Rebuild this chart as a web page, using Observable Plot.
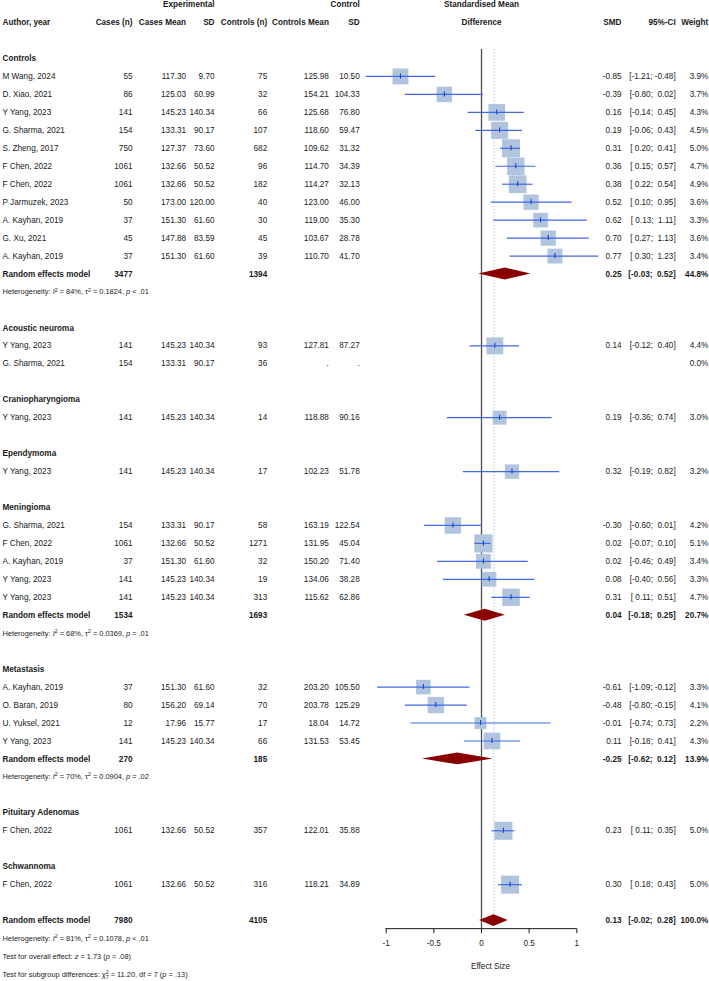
<!DOCTYPE html>
<html>
<head>
<meta charset="utf-8">
<script src="https://cdn.jsdelivr.net/npm/d3@7"></script>
<script src="https://cdn.jsdelivr.net/npm/@observablehq/plot@0.6"></script>
<style>
  html, body { margin: 0; padding: 0; background: #fff; }
  svg text { white-space: pre; }
</style>
</head>
<body>
<div id="chart"></div>
<script>
// ---- Study-level data (one entry per study row) ----
const studyGroup = [
  "Controls","Controls","Controls","Controls","Controls","Controls","Controls","Controls","Controls","Controls","Controls",
  "Acoustic neuroma","Acoustic neuroma",
  "Craniopharyngioma",
  "Ependymoma",
  "Meningioma","Meningioma","Meningioma","Meningioma","Meningioma",
  "Metastasis","Metastasis","Metastasis","Metastasis",
  "Pituitary Adenomas",
  "Schwannoma"
];
const author = [
  "M Wang, 2024","D. Xiao, 2021","Y Yang, 2023","G. Sharma, 2021","S. Zheng, 2017","F Chen, 2022","F Chen, 2022","P Jarmuzek, 2023","A. Kayhan, 2019","G. Xu, 2021","A. Kayhan, 2019",
  "Y Yang, 2023","G. Sharma, 2021",
  "Y Yang, 2023",
  "Y Yang, 2023",
  "G. Sharma, 2021","F Chen, 2022","A. Kayhan, 2019","Y Yang, 2023","Y Yang, 2023",
  "A. Kayhan, 2019","O. Baran, 2019","U. Yuksel, 2021","Y Yang, 2023",
  "F Chen, 2022",
  "F Chen, 2022"
];
const casesN = [55,86,141,154,750,1061,1061,50,37,45,37, 141,154, 141, 141, 154,1061,37,141,141, 37,80,12,141, 1061, 1061];
const casesMean = [117.30,125.03,145.23,133.31,127.37,132.66,132.66,173.00,151.30,147.88,151.30, 145.23,133.31, 145.23, 145.23, 133.31,132.66,151.30,145.23,145.23, 151.30,156.20,17.96,145.23, 132.66, 132.66];
const casesSD = [9.70,60.99,140.34,90.17,73.60,50.52,50.52,120.00,61.60,83.59,61.60, 140.34,90.17, 140.34, 140.34, 90.17,50.52,61.60,140.34,140.34, 61.60,69.14,15.77,140.34, 50.52, 50.52];
const controlsN = [75,32,66,107,682,96,182,40,30,45,39, 93,36, 14, 17, 58,1271,32,19,313, 32,70,17,66, 357, 316];
const controlsMean = [125.98,154.21,125.68,118.60,109.62,114.70,114.27,123.00,119.00,103.67,110.70, 127.81,null, 118.88, 102.23, 163.19,131.95,150.20,134.06,115.62, 203.20,203.78,18.04,131.53, 122.01, 118.21];
const controlsSD = [10.50,104.33,76.80,59.47,31.32,34.39,32.13,46.00,35.30,28.78,41.70, 87.27,null, 90.16, 51.78, 122.54,45.04,71.40,38.28,62.86, 105.50,125.29,14.72,53.45, 35.88, 34.89];
const smd = [-0.85,-0.39,0.16,0.19,0.31,0.36,0.38,0.52,0.62,0.70,0.77, 0.14,null, 0.19, 0.32, -0.30,0.02,0.02,0.08,0.31, -0.61,-0.48,-0.01,0.11, 0.23, 0.30];
const ciLow = [-1.21,-0.80,-0.14,-0.06,0.20,0.15,0.22,0.10,0.13,0.27,0.30, -0.12,null, -0.36, -0.19, -0.60,-0.07,-0.46,-0.40,0.11, -1.09,-0.80,-0.74,-0.18, 0.11, 0.18];
const ciHigh = [-0.48,0.02,0.45,0.43,0.41,0.57,0.54,0.95,1.11,1.13,1.23, 0.40,null, 0.74, 0.82, 0.01,0.10,0.49,0.56,0.51, -0.12,-0.15,0.73,0.41, 0.35, 0.43];
const weight = [3.9,3.7,4.3,4.5,5.0,4.7,4.9,3.6,3.3,3.6,3.4, 4.4,0.0, 3.0, 3.2, 4.2,5.1,3.4,3.3,4.7, 3.3,4.1,2.2,4.3, 5.0, 5.0];

// ---- Subgroups and pooled random-effects estimates ----
const subgroups = ["Controls","Acoustic neuroma","Craniopharyngioma","Ependymoma","Meningioma","Metastasis","Pituitary Adenomas","Schwannoma"];
const pooledGroup = ["Controls","Meningioma","Metastasis"];
const pooledCases = [3477, 1534, 270];
const pooledControls = [1394, 1693, 185];
const pooledSMD = [0.25, 0.04, -0.25];
const pooledLow = [-0.03, -0.18, -0.62];
const pooledHigh = [0.52, 0.25, 0.12];
const pooledWeight = [44.8, 20.7, 13.9];
const hetI2 = [84, 68, 70];
const hetTau2 = ["0.1824", "0.0369", "0.0904"];
const hetP = ["< .01", "= .01", "= .02"];

// ---- Overall model ----
const overallCases = 7980;
const overallControls = 4105;
const overallSMD = 0.13;
const overallLow = -0.02;
const overallHigh = 0.28;
const overallWeight = 100.0;
const overallI2 = 81;
const overallTau2 = "0.1078";
const overallP = "< .01";
const overallZ = 1.73;
const overallZp = ".08";
const subgroupChi2 = 11.20;
const subgroupDf = 7;
const subgroupP = ".13";

// ---- Header labels and axis ticks ----
const spanHeaders = ["Experimental", "Control"];
const columnHeaders = ["Author, year","Cases (n)","Cases Mean","SD","Controls (n)","Controls Mean","SD","SMD","95%-CI","Weight"];
const plotHeader = ["Standardised Mean", "Difference"];
const axisTicks = [-1, -0.5, 0, 0.5, 1];
const axisLabel = "Effect Size";

// ---- Layout ----
const ROW = 17.96;                 // pixels per table row
const AXIS_ROW = 48.45;            // row position of the x-axis line
const DIAMOND_HALF = 0.33;         // half-height of summary diamonds, in rows
const TICK_HALF = 2.5;             // half-height of point-estimate ticks, px
const columnKeys = ["author","casesN","casesMean","casesSD","controlsN","controlsMean","controlsSD","smd","ci","weight"];
const COLS = {author: 2, casesN: 132, casesMean: 185.6, casesSD: 214, controlsN: 266.7, controlsMean: 328.4, controlsSD: 359.2, smd: 621, ci: 675.2, weight: 707.8};
const FONT = "'Liberation Sans', Arial, Helvetica, sans-serif";
const FS = 8.2, FS_SMALL = 7.4;
const ink = "#1a1a1a";
const squareFill = "#b0c4de", ciColor = "#4169e1", tickColor = "#1f3fc8", diamondFill = "#8b0000";

// ---- Formatting helpers ----
const f2 = v => v == null ? "." : v.toFixed(2);
const padNum = v => (v < 0 ? "" : " ") + v.toFixed(2);
const fmtCI = (lo, hi) => lo == null ? "" : `[${padNum(lo)}; ${padNum(hi)}]`;
const fmtW = w => w.toFixed(1) + "%";
const plain = m => m.replace(/[_^~]/g, "");

// ---- Build the row table ----
const studies = author.map((a, i) => ({
  group: studyGroup[i], author: a,
  casesN: String(casesN[i]), casesMean: f2(casesMean[i]), casesSD: f2(casesSD[i]),
  controlsN: String(controlsN[i]), controlsMean: f2(controlsMean[i]), controlsSD: f2(controlsSD[i]),
  est: smd[i], lo: ciLow[i], hi: ciHigh[i], w: weight[i],
  smd: smd[i] == null ? "" : smd[i].toFixed(2), ci: fmtCI(ciLow[i], ciHigh[i]), weight: fmtW(weight[i])
}));

const studyRows = [], groupRows = [], pooledRows = [], richRows = [];
let r = 0;
for (const g of subgroups) {
  groupRows.push({row: r++, author: g});
  for (const s of studies.filter(s => s.group === g)) studyRows.push({...s, row: r++});
  const p = pooledGroup.indexOf(g);
  if (p >= 0) {
    pooledRows.push({
      row: r++, author: "Random effects model",
      casesN: String(pooledCases[p]), controlsN: String(pooledControls[p]),
      est: pooledSMD[p], lo: pooledLow[p], hi: pooledHigh[p],
      smd: pooledSMD[p].toFixed(2), ci: fmtCI(pooledLow[p], pooledHigh[p]), weight: fmtW(pooledWeight[p])
    });
    richRows.push({row: r++, markup: `Heterogeneity: _I_^2^ = ${hetI2[p]}%, τ^2^ = ${hetTau2[p]}, _p_ ${hetP[p]}`});
  }
  r++; // spacer
}
const overallRow = r;
pooledRows.push({
  row: r++, author: "Random effects model",
  casesN: String(overallCases), controlsN: String(overallControls),
  est: overallSMD, lo: overallLow, hi: overallHigh,
  smd: overallSMD.toFixed(2), ci: fmtCI(overallLow, overallHigh), weight: fmtW(overallWeight)
});
richRows.push({row: r++, markup: `Heterogeneity: _I_^2^ = ${overallI2}%, τ^2^ = ${overallTau2}, _p_ ${overallP}`});
richRows.push({row: r++, markup: `Test for overall effect: _z_ = ${overallZ.toFixed(2)} (_p_ = ${overallZp})`});
richRows.push({row: r++, markup: `Test for subgroup differences: χ^2^~${subgroupDf}~ = ${subgroupChi2.toFixed(2)}, df = ${subgroupDf} (_p_ = ${subgroupP})`});
richRows.forEach(d => d.text = plain(d.markup));

const plotted = studyRows.filter(d => d.est != null && d.w > 0);
const diamonds = pooledRows.flatMap(d => [
  {id: d.row, x: d.lo, y1: d.row, y2: d.row},
  {id: d.row, x: d.est, y1: d.row - DIAMOND_HALF, y2: d.row + DIAMOND_HALF},
  {id: d.row, x: d.hi, y1: d.row, y2: d.row}
]);

// ---- Text column helper ----
const column = (data, key, opts = {}) => Plot.text(data, {
  y: "row", text: key, frameAnchor: "left", dx: COLS[key],
  textAnchor: key === "author" ? "start" : "end",
  fill: ink, fontSize: FS, ...opts
});
const bold = {fontWeight: "bold"};

const headerMarks = [
  ...spanHeaders.map((h, i) => Plot.text([h], {
    y: () => -3, text: d => d, frameAnchor: "left", dx: COLS[i === 0 ? "casesSD" : "controlsSD"],
    textAnchor: "end", fill: ink, fontSize: FS, ...bold
  })),
  ...columnHeaders.map((h, i) => Plot.text([h], {
    y: () => -2, text: d => d, frameAnchor: "left", dx: COLS[columnKeys[i]],
    textAnchor: i === 0 ? "start" : "end", fill: ink, fontSize: FS, ...bold
  })),
  ...plotHeader.map((h, i) => Plot.text([h], {
    x: () => 0, y: () => i - 3, text: d => d, textAnchor: "middle", fill: ink, fontSize: FS, ...bold
  }))
];

const svg = Plot.plot({
  width: 709, height: 981,
  marginTop: 0, marginRight: 0, marginLeft: 0, marginBottom: 981 - (58 + AXIS_ROW * ROW),
  style: {fontFamily: FONT, fontSize: FS + "px", background: "#fff", color: ink, overflow: "visible"},
  x: {domain: [-1, 1], range: [385.7, 576.3]},
  y: {domain: [0, 48], range: [58, 58 + 48 * ROW], axis: null},
  r: {type: "sqrt", domain: [0, 5], range: [0, 18 / Math.sqrt(Math.PI)]},
  marks: [
    // reference lines: no effect and overall effect
    Plot.ruleX([0], {y1: -0.5, y2: AXIS_ROW, stroke: "#4d4d4d", strokeWidth: 1.3}),
    Plot.ruleX([overallSMD], {y1: -0.5, y2: overallRow, stroke: "#9fb0d0", strokeWidth: 0.9, strokeDasharray: "1.2,2"}),
    // study squares, CIs and point estimates
    Plot.dot(plotted, {x: "est", y: "row", r: "w", symbol: "square", fill: squareFill, stroke: null}),
    Plot.ruleY(plotted, {y: "row", x1: "lo", x2: "hi", stroke: ciColor, strokeWidth: 1.2}),
    Plot.ruleX(plotted, {x: "est", y1: "row", y2: "row", insetTop: -TICK_HALF, insetBottom: -TICK_HALF, stroke: tickColor, strokeWidth: 1.1}),
    // pooled diamonds
    Plot.area(diamonds, {x1: "x", y1: "y1", y2: "y2", z: "id", fill: diamondFill, curve: "linear"}),
    // x axis
    Plot.ruleY([AXIS_ROW], {x1: -1, x2: 1, stroke: ink, strokeWidth: 1}),
    Plot.axisX({ticks: axisTicks, tickFormat: d => String(d), tickSize: 5, tickPadding: 7, label: null, fontSize: FS, color: ink}),
    Plot.text([axisLabel], {text: d => d, frameAnchor: "bottom-left", dx: 490, dy: 40, textAnchor: "middle", fill: ink, fontSize: FS}),
    // headers
    ...headerMarks,
    // group titles
    column(groupRows, "author", bold),
    // study rows
    ...columnKeys.map(k => column(studyRows, k)),
    // pooled rows
    ...["author","casesN","controlsN","smd","ci","weight"].map(k => column(pooledRows, k, bold)),
    // heterogeneity and test lines
    Plot.text(richRows, {y: "row", text: "text", frameAnchor: "left", dx: COLS.author, textAnchor: "start", fill: ink, fontSize: FS_SMALL})
  ]
});
document.getElementById("chart").append(svg);

// Typeset italics, superscripts and subscripts in the statistics lines
const richByText = new Map(richRows.map(d => [d.text, d.markup]));
svg.querySelectorAll("text").forEach(el => {
  if (el.children.length) return;
  const markup = richByText.get(el.textContent);
  if (!markup) return;
  const parts = markup.split(/(_[^_]+_|\^[^^]+\^|~[^~]+~)/).filter(s => s.length);
  const t = d3.select(el);
  t.text(null);
  let offset = 0, prev = null;
  const shiftTo = (sp, target) => { const d = target - offset; offset = target; if (d) sp.attr("dy", d); };
  for (const p of parts) {
    const sp = t.append("tspan");
    if (p[0] === "_") { shiftTo(sp, 0); sp.attr("font-style", "italic").text(p.slice(1, -1)); }
    else if (p[0] === "^") { shiftTo(sp, -0.38 * FS_SMALL); sp.attr("font-size", 0.72 * FS_SMALL).text(p.slice(1, -1)); }
    else if (p[0] === "~") {
      if (prev && prev.kind === "^") sp.attr("dx", -prev.node.getComputedTextLength());
      shiftTo(sp, 0.3 * FS_SMALL); sp.attr("font-size", 0.72 * FS_SMALL).text(p.slice(1, -1));
    }
    else { shiftTo(sp, 0); sp.text(p); }
    prev = {kind: p[0], node: sp.node()};
  }
});
</script>
</body>
</html>
